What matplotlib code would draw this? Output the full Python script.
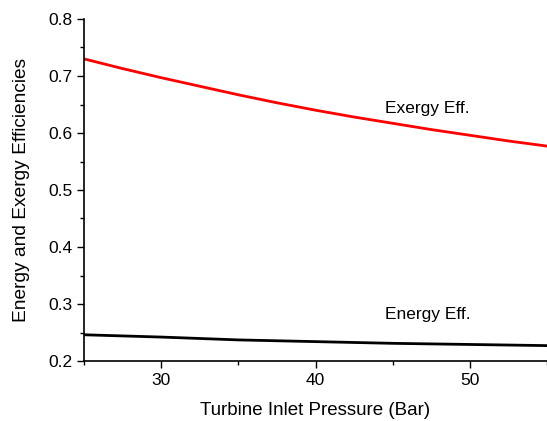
import matplotlib
matplotlib.use("Agg")
import matplotlib.pyplot as plt
import numpy as np
from matplotlib.ticker import MultipleLocator

plt.rcParams['font.family'] = ['Liberation Sans', 'DejaVu Sans']

pressure = [25, 27.5, 30, 32.5, 35, 37.5, 40, 42.5, 45, 47.5, 50, 52.5, 55]
exergy_eff = [0.730, 0.713, 0.697, 0.682, 0.667, 0.653, 0.640, 0.628,
              0.617, 0.606, 0.596, 0.586, 0.577]
energy_eff = [0.246, 0.244, 0.242, 0.2395, 0.237, 0.2355, 0.234, 0.2325,
              0.231, 0.230, 0.229, 0.228, 0.227]

fig = plt.figure(figsize=(5.47, 4.21), dpi=100)
ax = fig.add_axes([84/547, 60/421, 1 - 84/547, (361-19)/421])

ax.plot(pressure, exergy_eff, color='#ff0000', lw=2)
ax.plot(pressure, energy_eff, color='black', lw=2)

ax.set_xlim(25, 55)
ax.set_ylim(0.2, 0.8)
ax.xaxis.set_minor_locator(MultipleLocator(5))
ax.yaxis.set_major_locator(MultipleLocator(0.1))
ax.yaxis.set_minor_locator(MultipleLocator(0.05))
ax.set_xticks([30, 40, 50])
ax.tick_params(which='major', direction='out', length=5, width=1, labelsize=12.5)
ax.tick_params(which='minor', direction='out', length=3, width=1)
for s in ['top', 'right']:
    ax.spines[s].set_visible(False)
for s in ['left', 'bottom']:
    ax.spines[s].set_linewidth(1.2)

ax.set_xlabel('Turbine Inlet Pressure (Bar)', fontsize=13.5, labelpad=10)
ax.set_ylabel('Energy and Exergy Efficiencies', fontsize=13.8, labelpad=13)

ax.text(44.5, 0.635, 'Exergy Eff.', fontsize=12.5)
ax.text(44.5, 0.273, 'Energy Eff.', fontsize=12.5)

fig.savefig('out.png', dpi=100)
